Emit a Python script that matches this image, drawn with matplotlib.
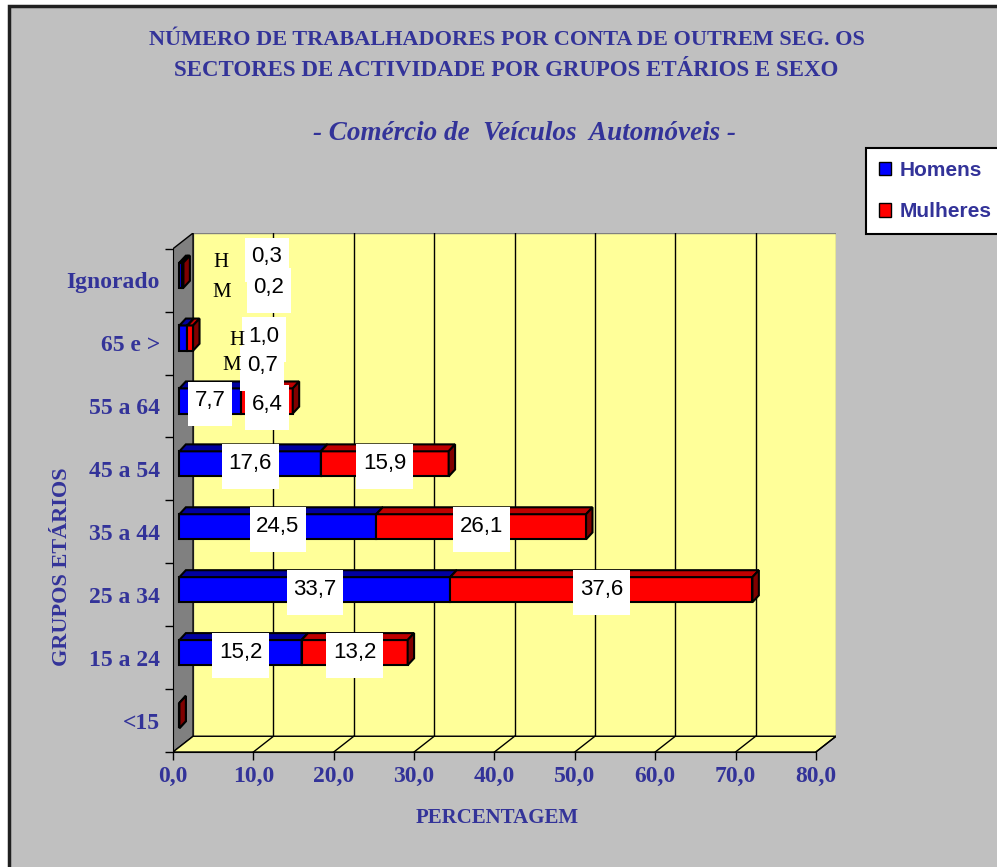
# Grafico 3D de barras empilhadas: trabalhadores por grupo etario e sexo

import numpy as np
import matplotlib.pyplot as plt
from matplotlib.patches import Polygon, Rectangle, Patch
from matplotlib.path import Path

grupos = ['<15', '15 a 24', '25 a 34', '35 a 44', '45 a 54', '55 a 64', '65 e >', 'Ignorado']
homens = [0.0, 15.2, 33.7, 24.5, 17.6, 7.7, 1.0, 0.3]
mulheres = [0.0, 13.2, 37.6, 26.1, 15.9, 6.4, 0.7, 0.2]
xticks = np.arange(0, 81, 10)
xlabels = ['%.1f' % v for v in xticks]
xlabels = [s.replace('.', ',') for s in xlabels]

AZUL = '#333399'
SERIF = 'Liberation Serif'
SANS = 'Liberation Sans'

# profundidade da caixa e das barras (unidades dos dados)
DX, DY = 2.5, 0.25
BX, BY = 0.8, 0.08
BDX, BDY = 0.8, 0.11
BH = 0.2


def fmt(v):
    return ('%.1f' % v).replace('.', ',')


def caixa(x0, y0, width, height, mutation_size, *args, **kw):
    # caixa branca do rotulo: mais folga em baixo que em cima
    px, ptop, pbot = 0.3 * mutation_size, 0.4 * mutation_size, 0.65 * mutation_size
    return Path([(x0 - px, y0 - pbot), (x0 + width + px, y0 - pbot),
                 (x0 + width + px, y0 + height + ptop), (x0 - px, y0 + height + ptop),
                 (x0 - px, y0 - pbot)], closed=True)


def bar3d(ax, y, left, width, face, top, side):
    x0 = left + BX
    x1 = left + width + BX
    yb = y + BY - BH
    yt = y + BY + BH
    ax.add_patch(Polygon([(x0, yb), (x1, yb), (x1, yt), (x0, yt)],
                         fc=face, ec='k', lw=1.5, zorder=5))
    ax.add_patch(Polygon([(x0, yt), (x1, yt), (x1 + BDX, yt + BDY), (x0 + BDX, yt + BDY)],
                         fc=top, ec='k', lw=1.5, zorder=5))
    ax.add_patch(Polygon([(x1, yb), (x1 + BDX, yb + BDY), (x1 + BDX, yt + BDY), (x1, yt)],
                         fc=side, ec='k', lw=1.5, zorder=5))


def rotulo(ax, x, y, txt):
    # primeiro a caixa, depois o texto por cima de todas as caixas
    ax.text(x, y, txt, ha='center', va='center', fontsize=16, family=SANS,
            color='none', zorder=9,
            bbox=dict(boxstyle=caixa, fc='white', ec='none'))
    ax.text(x, y, txt, ha='center', va='center', fontsize=16, family=SANS,
            color='black', zorder=10)


fig = plt.figure(figsize=(9.97, 8.67), dpi=100)
fig.patch.set_facecolor('white')
fig.add_artist(Rectangle((9 / 997, -0.02), 1.02, 1.02 - 6 / 867,
                         transform=fig.transFigure, fc='#C0C0C0', ec='#202020', lw=2.5,
                         zorder=-10))

ax = fig.add_axes([173 / 997, (867 - 752) / 867, 663 / 997, 519 / 867])
ax.set_facecolor('none')
ax.set_xlim(0, 80 + DX)
ax.set_ylim(-0.5, 7.5 + DY)

# paredes e chao
ax.add_patch(Rectangle((DX, -0.5 + DY), 80, 8, fc='#FFFF99', ec='#808080', lw=1, zorder=1))
ax.add_patch(Polygon([(0, -0.5), (DX, -0.5 + DY), (DX, 7.5 + DY), (0, 7.5)],
                     fc='#808080', ec='k', lw=1, zorder=2))
ax.add_patch(Polygon([(0, -0.5), (80, -0.5), (80 + DX, -0.5 + DY), (DX, -0.5 + DY)],
                     fc='#FFFF99', ec='k', lw=1, zorder=2))
for v in xticks[1:-1]:
    ax.plot([v + DX, v + DX], [-0.5 + DY, 7.5 + DY], color='k', lw=1, zorder=1.5)
for v in xticks[1:]:
    ax.plot([v, v + DX], [-0.5, -0.5 + DY], color='k', lw=1, zorder=3)

# barras
for i in range(len(grupos)):
    bar3d(ax, i, 0, homens[i], '#0000FF', '#0000A0', '#000080')
    bar3d(ax, i, homens[i], mulheres[i], '#FF0000', '#C00000', '#800000')

# rotulos dos dados
for i in range(1, 6):
    rotulo(ax, BX + homens[i] / 2, i + BY, fmt(homens[i]))
    yy = i + BY - (0.06 if i == 5 else 0)
    rotulo(ax, BX + homens[i] + mulheres[i] / 2, yy, fmt(mulheres[i]))

# rotulos movidos a mao (Ignorado e 65 e >)
rotulo(ax, 11.7, 7.37, fmt(homens[7]))
rotulo(ax, 11.9, 6.88, fmt(mulheres[7]))
rotulo(ax, 11.3, 6.10, fmt(homens[6]))
rotulo(ax, 11.1, 5.64, fmt(mulheres[6]))
for x, y, s in [(6.0, 7.28, 'H'), (6.0, 6.80, 'M'), (8.0, 6.04, 'H'), (7.3, 5.64, 'M')]:
    ax.text(x, y, s, ha='center', va='center', fontsize=15, family=SERIF,
            color='black', zorder=11)

# eixos
for s in ['top', 'right']:
    ax.spines[s].set_visible(False)
ax.spines['left'].set_bounds(-0.5, 7.5)
ax.spines['bottom'].set_bounds(0, 80)
ax.spines['left'].set_zorder(4)
ax.spines['bottom'].set_zorder(4)
ax.set_xticks(xticks)
ax.set_xticklabels(xlabels)
ax.set_yticks(range(len(grupos)))
ax.set_yticklabels(grupos)
ax.set_yticks(np.arange(-0.5, 8, 1), minor=True)
ax.tick_params(axis='y', which='major', length=0, pad=9.5)
ax.tick_params(axis='y', which='minor', length=6, width=1)
ax.tick_params(axis='x', length=6, width=1, pad=4)
for lab in ax.get_xticklabels() + ax.get_yticklabels():
    lab.set_fontfamily(SERIF)
    lab.set_fontweight('bold')
    lab.set_fontsize(17)
    lab.set_color(AZUL)

fig.text(497 / 997, 1 - 818 / 867, 'PERCENTAGEM', ha='center', va='center',
         family=SERIF, weight='bold', fontsize=15, color=AZUL)
fig.text(62 / 997, 1 - 567 / 867, 'GRUPOS ETÁRIOS', ha='center', va='center',
         rotation=90, family=SERIF, weight='bold', fontsize=16, color=AZUL)

# titulos
fig.text(507 / 997, 1 - 40 / 867, 'NÚMERO DE TRABALHADORES POR CONTA DE OUTREM SEG. OS',
         ha='center', va='center', family=SERIF, weight='bold', fontsize=16, color=AZUL)
fig.text(506 / 997, 1 - 71 / 867, 'SECTORES DE ACTIVIDADE POR GRUPOS ETÁRIOS E SEXO',
         ha='center', va='center', family=SERIF, weight='bold', fontsize=16.5, color=AZUL)
fig.text(524 / 997, 1 - 133 / 867, '- Comércio de  Veículos  Automóveis -',
         ha='center', va='center', family=SERIF, weight='bold', style='italic',
         fontsize=19.5, color=AZUL)

# legenda
leg = fig.legend(handles=[Patch(fc='#0000FF', ec='k'), Patch(fc='#FF0000', ec='k')],
                 labels=['Homens', 'Mulheres'], loc='upper left',
                 bbox_to_anchor=(866 / 997, 1 - 148 / 867), borderaxespad=0,
                 frameon=True, fancybox=False, framealpha=1, edgecolor='k',
                 prop=dict(family=SANS, weight='bold', size=15), labelcolor=AZUL,
                 handlelength=0.6, handleheight=0.6, handletextpad=0.4,
                 borderpad=0.6, labelspacing=1.1)
leg.get_frame().set_linewidth(1.5)

fig.savefig('out.png', dpi=100, facecolor=fig.get_facecolor())
